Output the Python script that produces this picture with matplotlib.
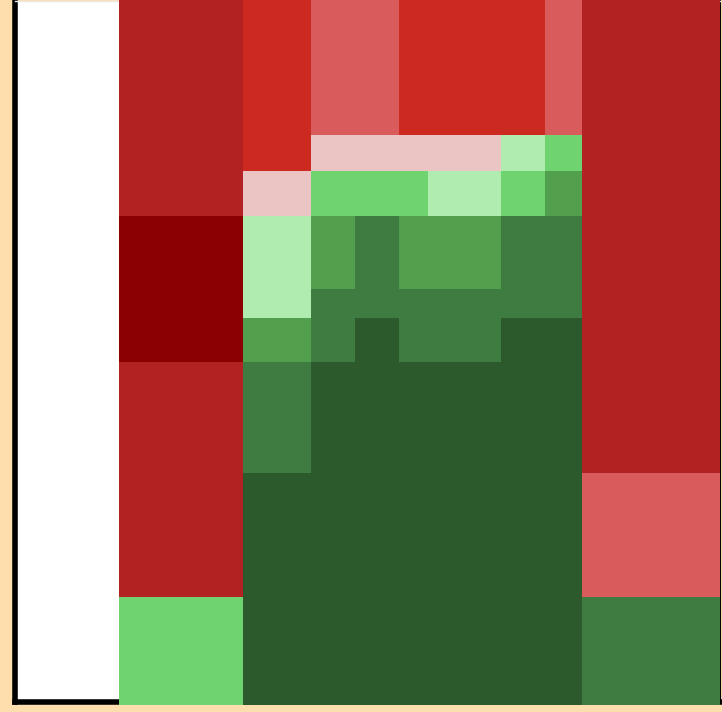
import numpy as np
import matplotlib
matplotlib.use("Agg")
import matplotlib.pyplot as plt
from matplotlib.colors import ListedColormap

# column and row boundaries of the mosaic
x_edges = [119, 243, 311, 355, 399, 428, 501, 545, 582, 720]
y_edges = [0, 135, 171, 216, 289, 318, 362, 473, 597, 705]

# colour level of each cell (0 = darkest red ... 9 = darkest green)
levels = [
    [1, 2, 3, 3, 2, 2, 2, 3, 1],
    [1, 2, 4, 4, 4, 4, 5, 6, 1],
    [1, 4, 6, 6, 6, 5, 6, 7, 1],
    [0, 5, 7, 8, 7, 7, 8, 8, 1],
    [0, 5, 8, 8, 8, 8, 8, 8, 1],
    [0, 7, 8, 9, 8, 8, 9, 9, 1],
    [1, 8, 9, 9, 9, 9, 9, 9, 1],
    [1, 9, 9, 9, 9, 9, 9, 9, 3],
    [6, 9, 9, 9, 9, 9, 9, 9, 8],
]

palette = ["#8B0000", "#B22222", "#CC2920", "#D95B5B", "#EBC4C4",
           "#B0EBB0", "#6FD36F", "#52A04E", "#3F7C42", "#2C5A2D"]

fig = plt.figure(figsize=(7.22, 7.12), dpi=100, facecolor="#FFDEAD")
ax = fig.add_axes([15 / 722, 10 / 712, 705 / 722, 701 / 712])
ax.set_facecolor("white")

cmap = ListedColormap(palette)
mesh = ax.pcolormesh(x_edges, y_edges, np.array(levels), cmap=cmap,
                     vmin=-0.5, vmax=9.5, shading="flat")
mesh.set_clip_on(False)

ax.set_xlim(15, 720)
ax.set_ylim(702, 1)
ax.set_xticks([])
ax.set_yticks([])

for side in ["left", "bottom"]:
    ax.spines[side].set_linewidth(4)
    ax.spines[side].set_color("black")
ax.spines["right"].set_linewidth(1.5)
ax.spines["right"].set_color("black")
ax.spines["top"].set_linewidth(1)
ax.spines["top"].set_color("#e8e8e8")
for s in ax.spines.values():
    s.set_zorder(0.5)

fig.savefig("out.png", dpi=100, facecolor=fig.get_facecolor())
